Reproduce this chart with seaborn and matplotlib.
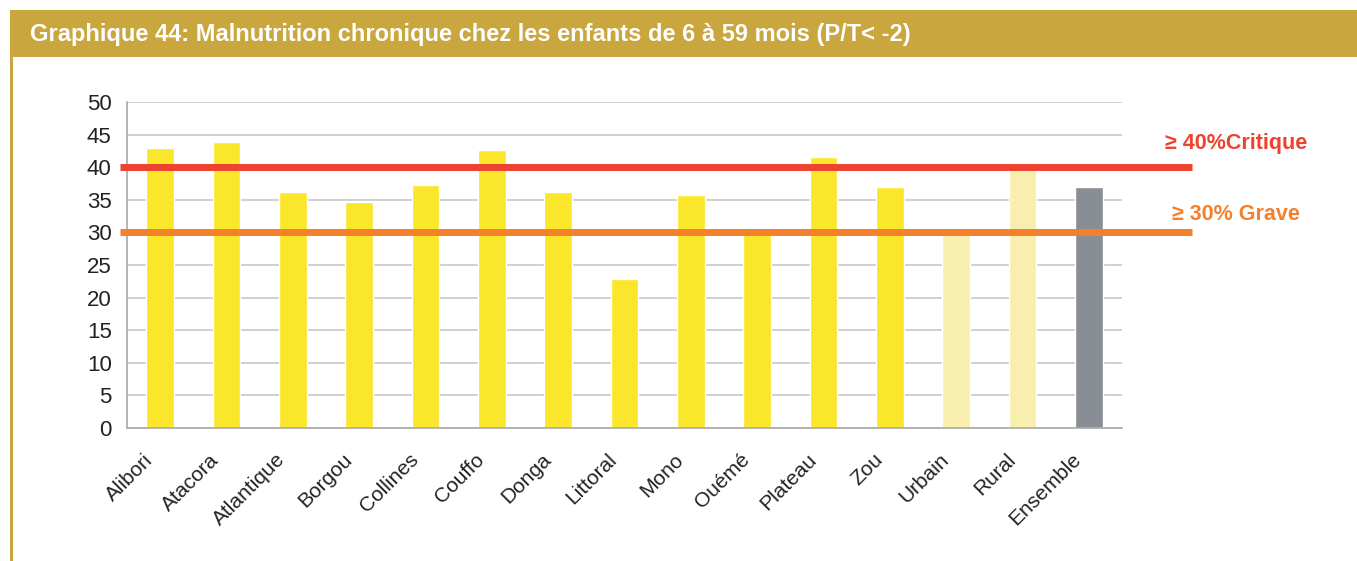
import matplotlib
matplotlib.use("Agg")
import matplotlib.pyplot as plt
import matplotlib.patches as mpatches
import matplotlib.transforms as mtransforms
from matplotlib.lines import Line2D
import seaborn as sns
import pandas as pd
import numpy as np

# Chronic malnutrition prevalence (%) by department, milieu and overall
categories = ["Alibori", "Atacora", "Atlantique", "Borgou", "Collines", "Couffo",
              "Donga", "Littoral", "Mono", "Ouémé", "Plateau", "Zou",
              "Urbain", "Rural", "Ensemble"]
values = [43.0, 43.8, 36.2, 34.6, 37.2, 42.6, 36.2, 22.8, 35.8, 29.8, 41.5,
          36.9, 29.7, 40.1, 36.9]
groups = ["Département"] * 12 + ["Milieu"] * 2 + ["Total"]

threshold_critical = 40
threshold_severe = 30
label_critical = "≥ 40%Critique"
label_severe = "≥ 30% Grave"
title = "Graphique 44: Malnutrition chronique chez les enfants de 6 à 59 mois (P/T< -2)"

group_colors = {"Département": "#FAE72C", "Milieu": "#F8EFAE", "Total": "#898E94"}
gold = "#C9A73E"

sns.set_theme(style="white")
plt.rcParams["font.family"] = ["Liberation Sans", "DejaVu Sans"]

df = pd.DataFrame({"categorie": categories, "valeur": values, "groupe": groups})
palette = {c: group_colors[g] for c, g in zip(categories, groups)}

fig = plt.figure(figsize=(13.57, 5.61), dpi=100)

# Header band with title
fig.patches.append(mpatches.Rectangle((10 / 1357, 1 - 57 / 561), 1 - 10 / 1357, 47 / 561,
                                      transform=fig.transFigure, facecolor=gold,
                                      edgecolor="none", zorder=0))
fig.lines.append(Line2D([11 / 1357, 11 / 1357], [0, 1 - 57 / 561],
                        transform=fig.transFigure, color=gold, lw=2.2))
fig.text(30 / 1357, 1 - 34 / 561, title, color="white", fontsize=17,
         fontweight="bold", va="center", ha="left")

ax = fig.add_axes([127 / 1357, 1 - 428 / 561, (1122 - 127) / 1357, (428 - 102) / 561])
sns.barplot(data=df, x="categorie", y="valeur", hue="categorie", palette=palette,
            width=0.42, legend=False, ax=ax, saturation=1, zorder=2)

ax.set_ylim(0, 50)
ax.set_xlim(-0.5, len(categories) - 0.5)
ax.set_yticks(np.arange(0, 51, 5))
ax.set_xlabel("")
ax.set_ylabel("")
ax.grid(axis="y", color="#C8C8C8", lw=1.2, zorder=0)
ax.grid(axis="x", visible=False)
for s in ["top", "right"]:
    ax.spines[s].set_visible(False)
for s in ["left", "bottom"]:
    ax.spines[s].set_color("#A8A8A8")
    ax.spines[s].set_linewidth(1.2)

ax.set_xticks(np.arange(-0.5, len(categories), 1.0), minor=True)
ax.tick_params(axis="x", which="major", length=0, pad=8)
ax.tick_params(axis="x", which="minor", length=5, color="#A8A8A8", width=1.2, direction="out")
ax.tick_params(axis="y", length=5, color="#A8A8A8", width=1.2, direction="out",
               labelsize=16, labelcolor="#222222", pad=6)
ax.set_xticks(range(len(categories)))
ax.set_xticklabels(categories, rotation=45, ha="right", rotation_mode="anchor",
                   fontsize=15, color="#222222")
shift = mtransforms.ScaledTranslation(-17 / 100, -11 / 100, fig.dpi_scale_trans)
for lbl in ax.get_xticklabels():
    lbl.set_transform(lbl.get_transform() + shift)

# Threshold lines extending past the plotting area
ax.axhline(threshold_critical, xmin=-0.007, xmax=1.0705, color="#EE4230", lw=5,
           solid_capstyle="butt", clip_on=False, zorder=4)
ax.axhline(threshold_severe, xmin=-0.007, xmax=1.0705, color="#F3812B", lw=5,
           solid_capstyle="butt", clip_on=False, zorder=4)

fig.text(1236 / 1357, 1 - 143 / 561, label_critical, color="#EE4230", fontsize=15.5,
         fontweight="bold", ha="center", va="center")
fig.text(1236 / 1357, 1 - 214 / 561, label_severe, color="#F3812B", fontsize=15.5,
         fontweight="bold", ha="center", va="center")

fig.savefig("out.png", dpi=100)
